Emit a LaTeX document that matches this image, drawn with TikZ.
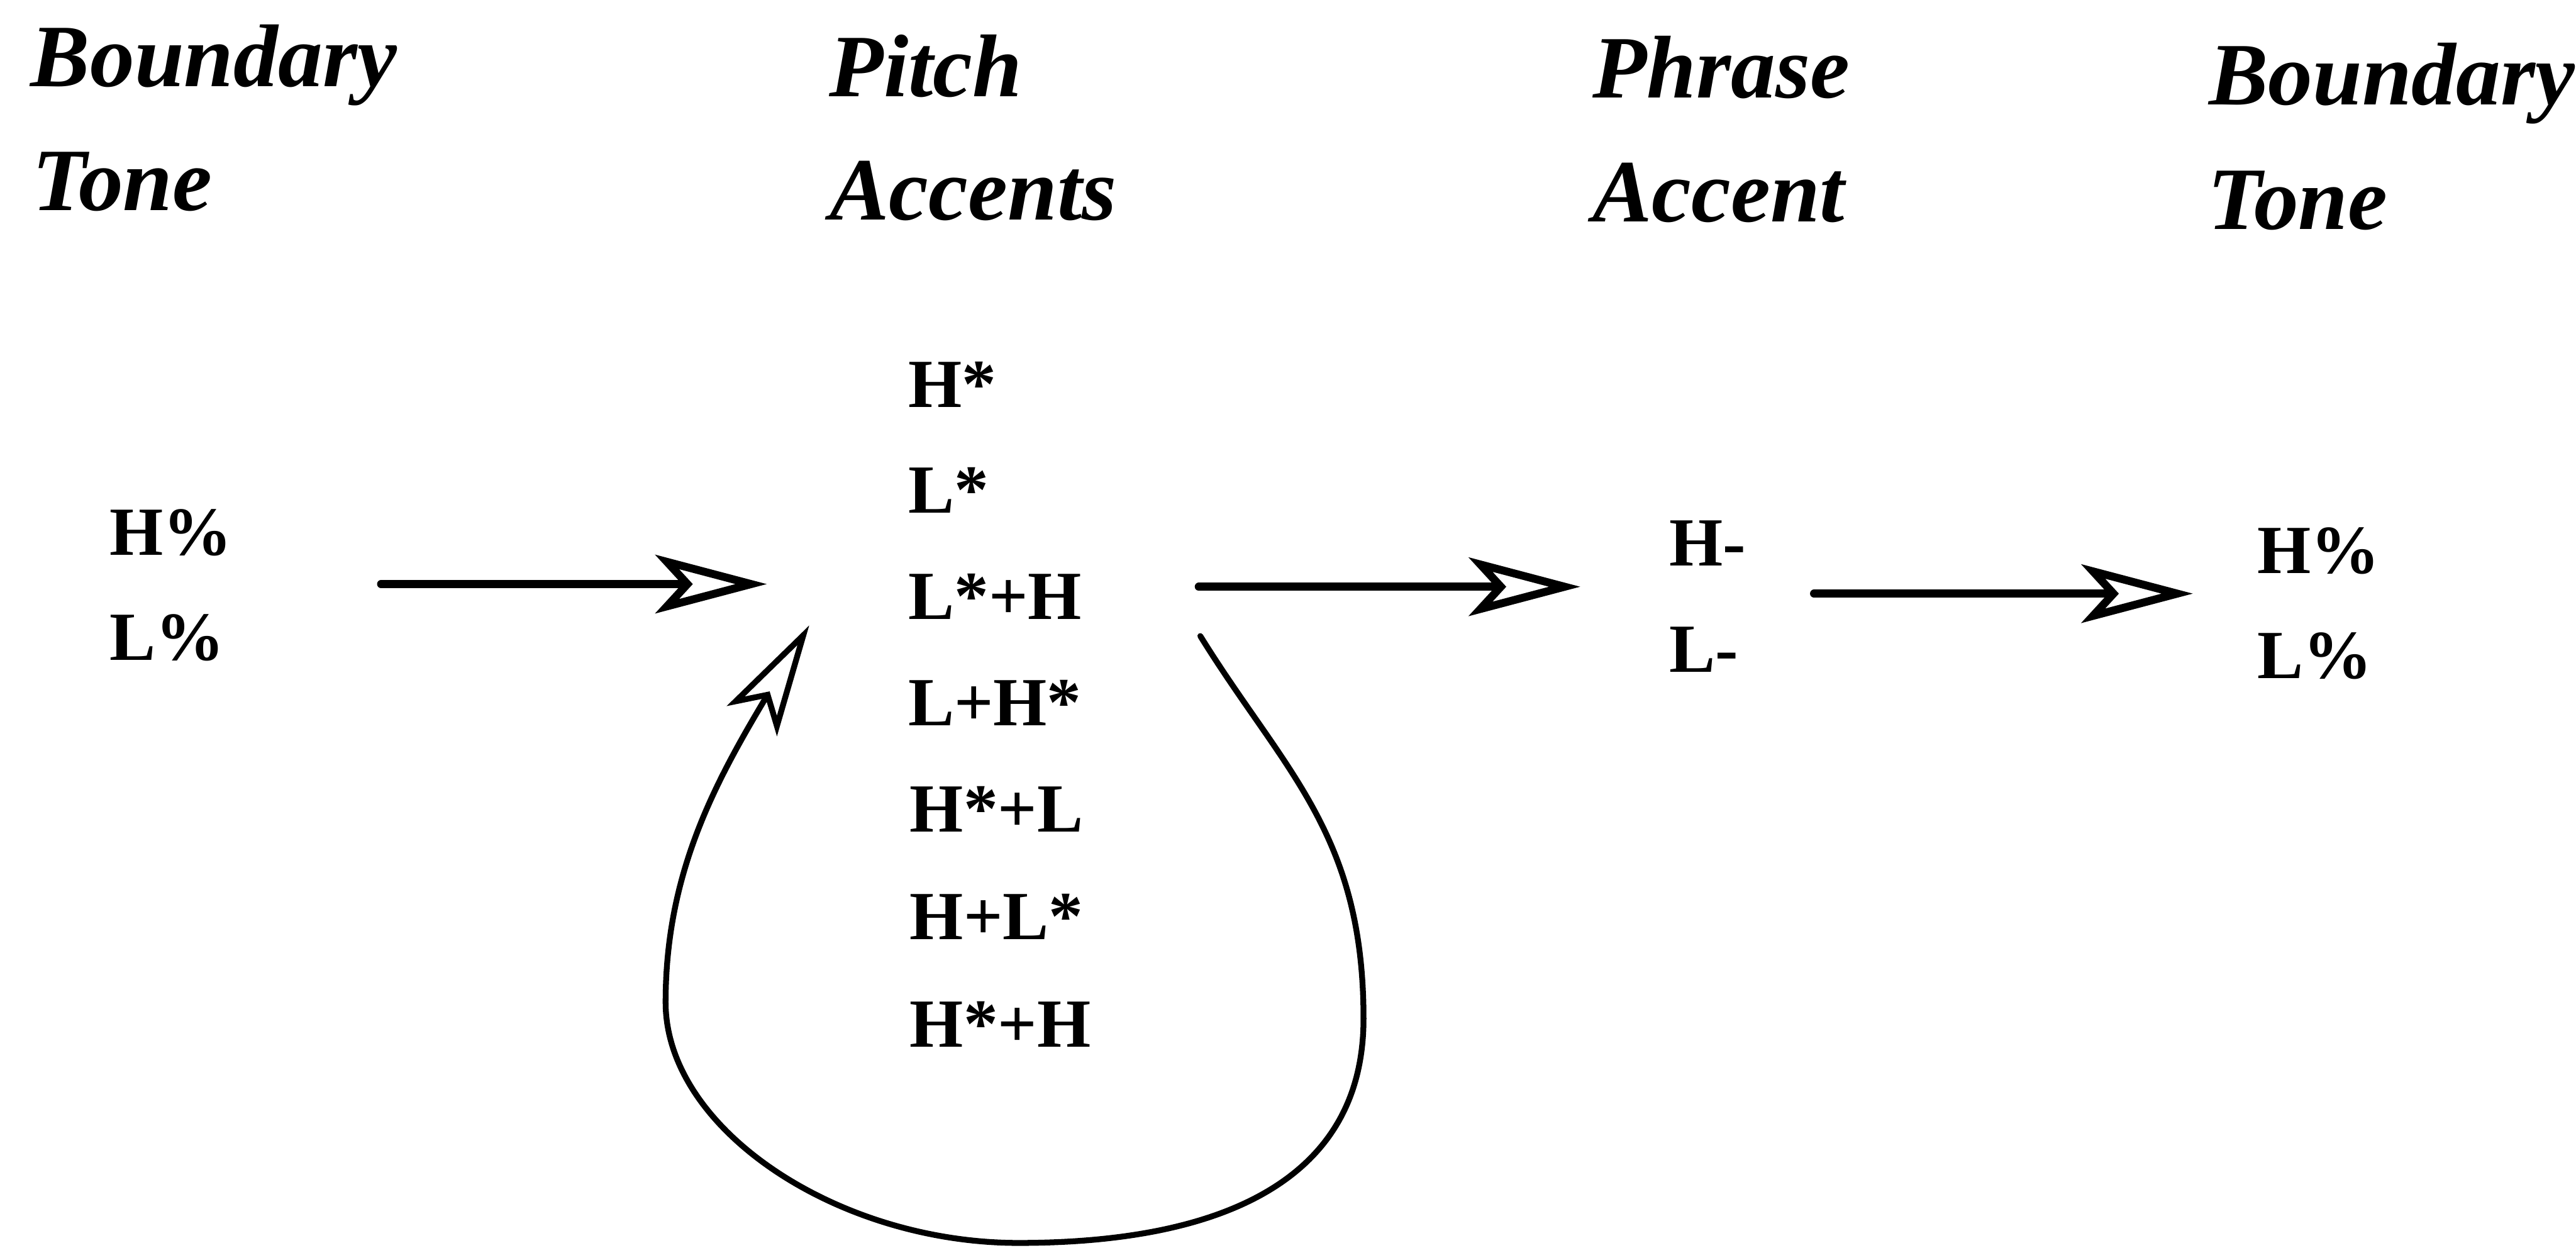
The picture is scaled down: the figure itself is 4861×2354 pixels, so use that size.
\documentclass[tikz,border=0pt]{standalone}
\usepackage{fontspec}
\setmainfont{Liberation Serif}
\usetikzlibrary{arrows.meta}
\begin{document}
\begin{tikzpicture}[x=0.1pt,y=-0.1pt,
  hdr/.style={anchor=base west,inner sep=0pt,font=\fontsize{16.8}{20}\selectfont\bfseries\itshape},
  sym/.style={anchor=base west,inner sep=0pt,font=\fontsize{13}{15}\selectfont\bfseries},
  tip/.style={-{Stealth[open,length=21pt,width=11pt,inset=5pt]}},
  arr/.style={tip,line width=1.5pt,line cap=round},
  loop/.style={tip,line width=1.1pt,line cap=round}]
\useasboundingbox (0,0) rectangle (4861,2354);
% headers
\node[hdr] (h1a) at (56,163) {Boundary};
\node[hdr] (h1b) at (59,397) {Tone};
\node[hdr] (h2a) at (1563,182) {Pitch};
\node[hdr] (h2b) at (1564,415) {Accents};
\node[hdr] (h3a) at (3003,185) {Phrase};
\node[hdr] (h3b) at (3003,418) {Accent};
\node[hdr] (h4a) at (4166,198) {Boundary};
\node[hdr] (h4b) at (4164,433) {Tone};
% left boundary tones
\node[sym] (bh) at (205,1047) {H\%};
\node[sym] (bl) at (205,1245) {L\%};
% pitch accents
\node[sym] (p1) at (1712,768) {H*};
\node[sym] (p2) at (1712,968) {L*};
\node[sym] (p3) at (1712,1168) {L*+H};
\node[sym] (p4) at (1712,1369) {L+H*};
\node[sym] (p5) at (1715,1570) {H*+L};
\node[sym] (p6) at (1715,1772) {H+L*};
\node[sym] (p7) at (1715,1975) {H*+H};
% phrase accents
\node[sym] (ph) at (3148,1068) {H-};
\node[sym] (pl) at (3148,1268) {L-};
% right boundary tones
\node[sym] (rh) at (4258,1082) {H\%};
\node[sym] (rl) at (4258,1280) {L\%};
% arrow end points
\coordinate (a1s) at (719,1102);
\coordinate (a1e) at (1447,1102);
\coordinate (a2s) at (2262,1107);
\coordinate (a2e) at (2982,1107);
\coordinate (a3s) at (3423,1120);
\coordinate (a3e) at (4138,1120);
\coordinate (ls) at (2265,1200);
\coordinate (le) at (1527,1180);
\draw[arr] (a1s) -- (a1e);
\draw[arr] (a2s) -- (a2e);
\draw[arr] (a3s) -- (a3e);
\draw[loop] (ls) .. controls (2423,1455) and (2573,1572) .. (2573,1922)
  .. controls (2573,2230) and (2300,2345) .. (1922,2345)
  .. controls (1580,2345) and (1256,2130) .. (1256,1891)
  .. controls (1256,1650) and (1347,1480) .. (le);
\end{tikzpicture}
\end{document}
